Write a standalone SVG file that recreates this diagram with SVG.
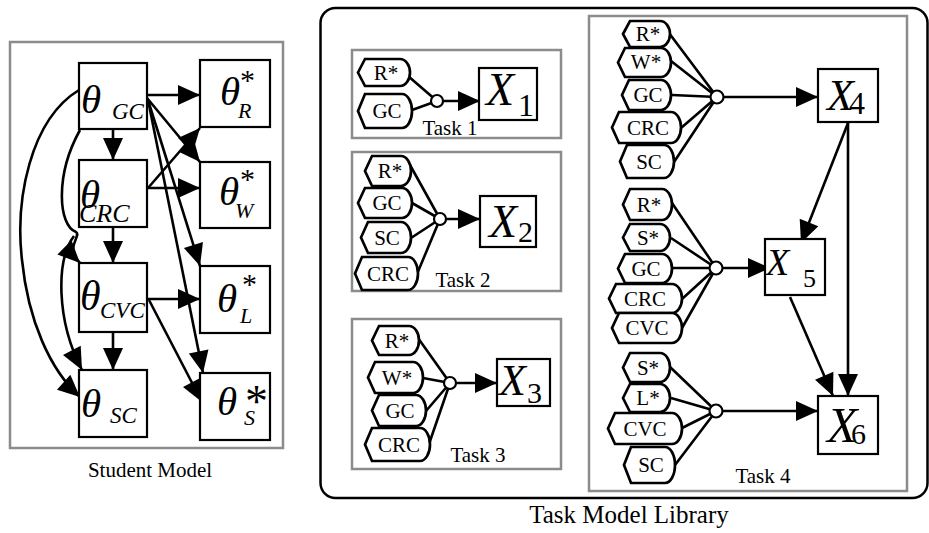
<svg xmlns="http://www.w3.org/2000/svg" width="929" height="533" viewBox="0 0 929 533">
<style>
.frame{fill:none;stroke:#8c8c8c;stroke-width:2.5}
.box{fill:#fff;stroke:#000;stroke-width:2.2}
.tag{fill:#fff;stroke:#000;stroke-width:2.7}
.or{fill:#fff;stroke:#000;stroke-width:2.2}
.e{fill:none;stroke:#000;stroke-width:2.6}
.ea{fill:none;stroke:#000;stroke-width:2.6;marker-end:url(#ah)}
.t{font-family:"Liberation Serif","Times New Roman",serif;fill:#000}
.tl{font-family:"Liberation Serif","Times New Roman",serif;font-size:21px;text-anchor:middle;fill:#000}
.it{font-style:italic}
</style>
<defs>
<marker id="ah" markerWidth="24" markerHeight="22" refX="22" refY="10" orient="auto" markerUnits="userSpaceOnUse" overflow="visible">
<path d="M0,0 L22,10 L0,20 z" fill="#000"/>
</marker>
</defs>

<!-- Student model frame -->
<rect class="frame" x="10" y="42" width="273" height="406"/>
<text class="t" x="150" y="477" font-size="21" text-anchor="middle">Student Model</text>

<!-- Task model library frame -->
<rect x="320.5" y="8" width="607" height="490" rx="15" ry="15" fill="none" stroke="#000" stroke-width="2.5"/>
<text class="t" x="629" y="523" font-size="25" text-anchor="middle">Task Model Library</text>
<rect class="frame" x="352" y="50" width="209" height="88"/>
<rect class="frame" x="352" y="152" width="209" height="139"/>
<rect class="frame" x="352" y="319" width="209" height="150"/>
<rect class="frame" x="589" y="16" width="318" height="475"/>
<text class="t" x="450" y="135" font-size="21" text-anchor="middle">Task 1</text>
<text class="t" x="463" y="287" font-size="21" text-anchor="middle">Task 2</text>
<text class="t" x="478" y="462" font-size="21" text-anchor="middle">Task 3</text>
<text class="t" x="763" y="483" font-size="21" text-anchor="middle">Task 4</text>

<!-- Connectors -->
<g id="connectors">
<!-- student model -->
<path class="ea" d="M147,95 L200,95"/>
<path class="ea" d="M113,129 L113,160"/>
<path class="ea" d="M113,227 L113,263"/>
<path class="ea" d="M113,332 L113,370"/>
<path class="ea" d="M147,188 L200,188"/>
<path class="ea" d="M148,188 L200,128"/>
<path class="ea" d="M147,98 L200,162"/>
<path class="ea" d="M148,100 L200,266"/>
<path class="ea" d="M148,100 L203,373"/>
<path class="ea" d="M147,299 L200,299"/>
<path class="ea" d="M149,300 L202,402"/>
<path class="ea" d="M79,90 C30,120 15,200 22,260 C28,320 50,370 80,397"/>
<path class="ea" d="M80,130 C55,175 58,225 76,232 C82,236 64,247 80,263"/>
<path class="ea" d="M74,236 C56,260 56,320 82,370"/>
<!-- task 1 -->
<path class="e" d="M408,76 L437,101 M412,110 L437,101"/>
<path class="ea" d="M443,101 L480,101"/>
<!-- task 2 -->
<path class="e" d="M410,165 L440,219 M412,203 L440,219 M411,238 L440,219 M417,274 L440,219"/>
<path class="ea" d="M446,219 L480,219"/>
<!-- task 3 -->
<path class="e" d="M418,338 L450,383 M423,378 L450,383 M426,411 L450,383 M429,444 L450,383"/>
<path class="ea" d="M456,383 L497,383"/>
<!-- task 4 -->
<path class="e" d="M669,33 L717,97 M671,61 L717,97 M672,95 L717,97 M681,128 L717,97 M674,162 L717,97"/>
<path class="e" d="M672,203 L716,268 M671,238 L716,268 M673,268 L716,268 M682,299 L716,268 M682,328 L716,268"/>
<path class="e" d="M670,367 L716,411 M671,398 L716,411 M682,428 L716,411 M675,465 L716,411"/>
<path class="ea" d="M723,97 L818,97"/>
<path class="ea" d="M722,268 L770,268"/>
<path class="ea" d="M722,411 L818,411"/>
<path class="ea" d="M848,123 L801,243"/>
<path class="ea" d="M848,123 L848,396"/>
<path class="ea" d="M790,297 L833,396"/>
</g>

<!-- Student model nodes -->
<g id="theta_GC">
<rect class="box" x="79" y="63" width="68" height="66"/>
<text class="t it" x="81" y="113" font-size="41">θ</text>
<text class="t it" x="112" y="119" font-size="23">GC</text>
</g>
<g id="theta_CRC">
<rect class="box" x="79" y="160" width="68" height="67"/>
<text class="t it" x="80" y="208" font-size="41">θ</text>
<text class="t it" x="79" y="222" font-size="26">CRC</text>
</g>
<g id="theta_CVC">
<rect class="box" x="79" y="263" width="68" height="69"/>
<text class="t it" x="80" y="310" font-size="42">θ</text>
<text class="t it" x="100" y="318" font-size="23">CVC</text>
</g>
<g id="theta_SC">
<rect class="box" x="79" y="370" width="68" height="67"/>
<text class="t it" x="81" y="417" font-size="41">θ</text>
<text class="t it" x="110" y="423" font-size="23">SC</text>
</g>
<g id="theta_R">
<rect class="box" x="200" y="60" width="70" height="67"/>
<text class="t it" x="220" y="105" font-size="41">θ</text>
<text class="t" x="240" y="90" font-size="30">*</text>
<text class="t it" x="238" y="118" font-size="22">R</text>
</g>
<g id="theta_W">
<rect class="box" x="200" y="162" width="70" height="66"/>
<text class="t it" x="219" y="205" font-size="41">θ</text>
<text class="t" x="240" y="189" font-size="30">*</text>
<text class="t it" x="235" y="218" font-size="22">W</text>
</g>
<g id="theta_L">
<rect class="box" x="200" y="266" width="70" height="67"/>
<text class="t it" x="217" y="312" font-size="41">θ</text>
<text class="t" x="242" y="294" font-size="30">*</text>
<text class="t it" x="240" y="323" font-size="22">L</text>
</g>
<g id="theta_S">
<rect class="box" x="200" y="373" width="70" height="67"/>
<text class="t it" x="217" y="415" font-size="41">θ</text>
<text class="t" x="245" y="417" font-size="46">*</text>
<text class="t it" x="244" y="425" font-size="22">S</text>
</g>

<!-- Task 1 -->
<g id="t1_R">
<path class="tag" d="M358,72.5 L365,59 L400,59 A10,13.5 0 0 1 400,86 L365,86 Z"/>
<text class="tl" x="386" y="80">R*</text>
</g>
<g id="t1_GC">
<path class="tag" d="M358,111 L365,94 L402,94 A10,17 0 0 1 402,128 L365,128 Z"/>
<text class="tl" x="387" y="118">GC</text>
</g>
<g id="t1_or"><circle class="or" cx="437" cy="101" r="6"/></g>
<g id="X1">
<rect class="box" x="479" y="68" width="58" height="52"/>
<text class="t it" x="486" y="105" font-size="46">X</text>
<text class="t" x="518" y="116" font-size="32">1</text>
</g>

<!-- Task 2 -->
<g id="t2_R">
<path class="tag" d="M365,171 L372,156 L401,156 A10,15 0 0 1 401,186 L372,186 Z"/>
<text class="tl" x="390" y="178">R*</text>
</g>
<g id="t2_GC">
<path class="tag" d="M358,203 L365,188 L402,188 A10,15 0 0 1 402,218 L365,218 Z"/>
<text class="tl" x="387" y="210">GC</text>
</g>
<g id="t2_SC">
<path class="tag" d="M361,237.5 L368,222 L401,222 A10,15.5 0 0 1 401,253 L368,253 Z"/>
<text class="tl" x="387" y="245">SC</text>
</g>
<g id="t2_CRC">
<path class="tag" d="M355,273.5 L362,257 L408,257 A10,16.5 0 0 1 408,290 L362,290 Z"/>
<text class="tl" x="388" y="281">CRC</text>
</g>
<g id="t2_or"><circle class="or" cx="440" cy="219" r="6"/></g>
<g id="X2">
<rect class="box" x="480" y="196" width="56" height="51"/>
<text class="t it" x="489" y="237" font-size="46">X</text>
<text class="t" x="518" y="242" font-size="30">2</text>
</g>

<!-- Task 3 -->
<g id="t3_R">
<path class="tag" d="M372,340.5 L379,326 L409,326 A10,14.5 0 0 1 409,355 L379,355 Z"/>
<text class="tl" x="397" y="348">R*</text>
</g>
<g id="t3_W">
<path class="tag" d="M368,377.5 L375,362 L413,362 A10,15.5 0 0 1 413,393 L375,393 Z"/>
<text class="tl" x="397" y="385">W*</text>
</g>
<g id="t3_GC">
<path class="tag" d="M372,410.5 L379,395 L416,395 A10,15.5 0 0 1 416,426 L379,426 Z"/>
<text class="tl" x="400" y="418">GC</text>
</g>
<g id="t3_CRC">
<path class="tag" d="M365,444.5 L372,428 L420,428 A10,16.5 0 0 1 420,461 L372,461 Z"/>
<text class="tl" x="399" y="452">CRC</text>
</g>
<g id="t3_or"><circle class="or" cx="450" cy="383" r="6"/></g>
<g id="X3">
<rect class="box" x="497" y="359" width="53" height="47"/>
<text class="t it" x="499" y="395" font-size="44">X</text>
<text class="t" x="527" y="403" font-size="30">3</text>
</g>

<!-- Task 4 group A -->
<g id="t4a_R">
<path class="tag" d="M623,34 L630,21 L660,21 A10,13 0 0 1 660,47 L630,47 Z"/>
<text class="tl" x="648" y="41">R*</text>
</g>
<g id="t4a_W">
<path class="tag" d="M618,62.5 L625,48 L661,48 A10,14.5 0 0 1 661,77 L625,77 Z"/>
<text class="tl" x="646" y="69">W*</text>
</g>
<g id="t4a_GC">
<path class="tag" d="M622,95 L629,80 L661,80 A10,15 0 0 1 661,110 L629,110 Z"/>
<text class="tl" x="648" y="102">GC</text>
</g>
<g id="t4a_CRC">
<path class="tag" d="M612,127.5 L619,112 L671,112 A10,15.5 0 0 1 671,143 L619,143 Z"/>
<text class="tl" x="648" y="135">CRC</text>
</g>
<g id="t4a_SC">
<path class="tag" d="M620,161.5 L627,145 L664,145 A10,16.5 0 0 1 664,178 L627,178 Z"/>
<text class="tl" x="649" y="169">SC</text>
</g>
<g id="t4a_or"><circle class="or" cx="717" cy="97" r="6.5"/></g>

<!-- Task 4 group B -->
<g id="t4b_R">
<path class="tag" d="M623,204.5 L630,189 L662,189 A10,15.5 0 0 1 662,220 L630,220 Z"/>
<text class="tl" x="649" y="212">R*</text>
</g>
<g id="t4b_S">
<path class="tag" d="M623,237.5 L630,224 L660,224 A10,13.5 0 0 1 660,251 L630,251 Z"/>
<text class="tl" x="648" y="245">S*</text>
</g>
<g id="t4b_GC">
<path class="tag" d="M618,268.5 L625,254 L662,254 A10,14.5 0 0 1 662,283 L625,283 Z"/>
<text class="tl" x="646" y="276">GC</text>
</g>
<g id="t4b_CRC">
<path class="tag" d="M609,298.5 L616,284 L672,284 A10,14.5 0 0 1 672,313 L616,313 Z"/>
<text class="tl" x="645" y="306">CRC</text>
</g>
<g id="t4b_CVC">
<path class="tag" d="M612,328 L619,313 L672,313 A10,15 0 0 1 672,343 L619,343 Z"/>
<text class="tl" x="647" y="335">CVC</text>
</g>
<g id="t4b_or"><circle class="or" cx="716" cy="268" r="6.5"/></g>

<!-- Task 4 group C -->
<g id="t4c_S">
<path class="tag" d="M623,367.5 L630,353 L660,353 A10,14.5 0 0 1 660,382 L630,382 Z"/>
<text class="tl" x="648" y="375">S*</text>
</g>
<g id="t4c_L">
<path class="tag" d="M623,398 L630,384 L660,384 A10,14 0 0 1 660,412 L630,412 Z"/>
<text class="tl" x="648" y="405">L*</text>
</g>
<g id="t4c_CVC">
<path class="tag" d="M608,428.5 L615,413 L672,413 A10,15.5 0 0 1 672,444 L615,444 Z"/>
<text class="tl" x="645" y="436">CVC</text>
</g>
<g id="t4c_SC">
<path class="tag" d="M624,465 L631,447 L665,447 A10,18 0 0 1 665,483 L631,483 Z"/>
<text class="tl" x="651" y="472">SC</text>
</g>
<g id="t4c_or"><circle class="or" cx="716" cy="411" r="6.5"/></g>

<g id="X4">
<rect class="box" x="818" y="69" width="60" height="53"/>
<text class="t it" x="827" y="110" font-size="44">X</text>
<text class="t" x="849" y="114" font-size="32">4</text>
</g>
<g id="X5">
<rect class="box" x="765" y="239" width="60" height="56"/>
<text class="t it" x="766" y="275" font-size="38">X</text>
<text class="t" x="803" y="287" font-size="26">5</text>
</g>
<g id="X6">
<rect class="box" x="818" y="396" width="60" height="58"/>
<text class="t it" x="827" y="442" font-size="50">X</text>
<text class="t" x="851" y="444" font-size="30">6</text>
</g>
</svg>
